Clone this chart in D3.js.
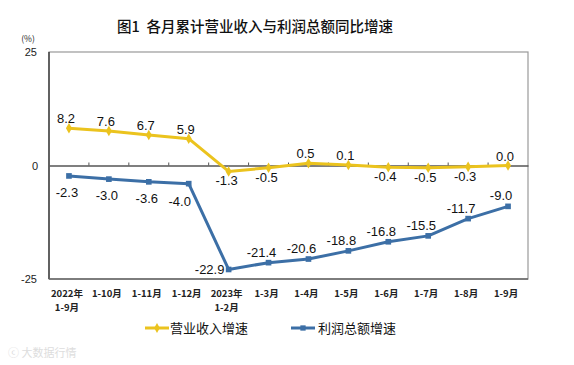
<!DOCTYPE html>
<html><head><meta charset="utf-8">
<script src="https://cdn.jsdelivr.net/npm/d3@7"></script>
<style>body{margin:0;background:#fff}</style>
</head><body>
<svg id="c" width="574" height="365"></svg>
<script>
const categories = [["2022年","1-9月"],["1-10月"],["1-11月"],["1-12月"],["2023年","1-2月"],["1-3月"],["1-4月"],["1-5月"],["1-6月"],["1-7月"],["1-8月"],["1-9月"]];
const revenue = [8.2,7.6,6.7,5.9,-1.3,-0.5,0.5,0.1,-0.4,-0.5,-0.3,0.0];
const profit = [-2.3,-3.0,-3.6,-4.0,-22.9,-21.4,-20.6,-18.8,-16.8,-15.5,-11.7,-9.0];
const yTicks = [25,0,-25];
const seriesNames = ["营业收入增速","利润总额增速"];
const colors = ["#EBC31E","#3C6FA6"];

const svg = d3.select("#c");
const cjk = "'Noto Sans CJK SC', sans-serif";
const num = "'Liberation Sans', Arial, sans-serif";
const L=49,R=528,T=52,B=279;
const x = d3.scaleBand().domain(d3.range(12)).range([L,R]);
const y = d3.scaleLinear().domain([-25,25]).range([B,T]);
const cx = i => x(i)+x.bandwidth()/2;

svg.append("text").attr("x",255).attr("y",32).attr("text-anchor","middle")
  .attr("font-family",cjk).attr("font-size",14.5).attr("font-weight",500).attr("fill","#111")
  .text("图1\u00a0\u00a0各月累计营业收入与利润总额同比增速");

// frame
svg.append("rect").attr("x",L).attr("y",T).attr("width",R-L).attr("height",B-T)
  .attr("fill","none").attr("stroke","#999").attr("stroke-width",1.2);
svg.append("line").attr("x1",L).attr("x2",L).attr("y1",T).attr("y2",B).attr("stroke","#222").attr("stroke-width",1.2);
svg.append("line").attr("x1",L).attr("x2",R).attr("y1",B).attr("y2",B).attr("stroke","#666").attr("stroke-width",1.5);

// zero axis with ticks
const xa = d3.axisTop(x).tickSize(3).tickFormat("").tickSizeOuter(0);
const g0 = svg.append("g").attr("transform",`translate(0,${y(0)})`).call(xa);
g0.select(".domain").attr("stroke","#555").attr("stroke-width",1.5);
g0.selectAll(".tick").attr("transform",(d)=>`translate(${x(d)},0)`);
g0.selectAll(".tick line").attr("stroke","#555");
g0.selectAll(".tick").filter(d=>d===0).remove();

// y ticks
svg.selectAll(".yt").data(yTicks).join("text").attr("class","yt")
  .attr("x",d=>d===0?38:37).attr("y",d=>y(d)+4).attr("text-anchor","end")
  .attr("font-family",num).attr("font-size",11).attr("fill","#222").text(d=>d);
svg.append("text").attr("x",28).attr("y",42).attr("text-anchor","middle")
  .attr("font-family",cjk).attr("font-size",8.5).attr("fill","#222").text("(%)");

// x labels
categories.forEach((c,i)=>{
  c.forEach((s,j)=>{
    svg.append("text").attr("x",cx(i)-2).attr("y",297+j*14).attr("text-anchor","middle")
      .attr("font-family",cjk).attr("font-size",9.5).attr("font-weight","bold").attr("fill","#222").text(s);
  });
});

const line = d3.line().x((d,i)=>cx(i)).y(d=>y(d));
function drawSeries(data,color,shape){
  svg.append("path").datum(data).attr("d",line).attr("fill","none")
    .attr("stroke",color).attr("stroke-width",3).attr("stroke-linejoin","round");
  svg.selectAll(null).data(data).join("path")
    .attr("transform",(d,i)=>`translate(${cx(i)},${y(d)})`)
    .attr("d",d3.symbol().type(shape).size(32)).attr("fill",color);
}
drawSeries(revenue,colors[0],d3.symbolDiamond);
drawSeries(profit,colors[1],d3.symbolSquare);

// labels
function lbl(xv,yv,t){
  svg.append("text").attr("x",xv).attr("y",yv).attr("text-anchor","middle")
    .attr("font-family",num).attr("font-size",13).attr("fill","#111").text(t);
}
revenue.forEach((d,i)=>{
  const above = d>=0 && i!==8;
  const dx = i<4?-3:(i>=6?-3:-2);
  lbl(cx(i)+dx, above? y(d)-5 : y(d)+14, d.toFixed(1));
});
profit.forEach((d,i)=>{
  if(i<3) lbl(cx(i)-2, y(d)+21, d.toFixed(1));
  else if(i===3) lbl(cx(i)-9, y(d)+22, d.toFixed(1));
  else if(i===4) lbl(cx(i)-19, y(d)+5, d.toFixed(1));
  else lbl(cx(i)-7, y(d)-6, d.toFixed(1));
});

// legend
const leg = [[145,170],[291,318]];
seriesNames.forEach((n,k)=>{
  const [lx,tx]=leg[k];
  svg.append("line").attr("x1",lx).attr("x2",lx+24).attr("y1",328).attr("y2",328)
    .attr("stroke",colors[k]).attr("stroke-width",3);
  svg.append("path").attr("transform",`translate(${lx+12},328)`)
    .attr("d",d3.symbol().type(k===0?d3.symbolDiamond:d3.symbolSquare).size(28)).attr("fill",colors[k]);
  svg.append("text").attr("x",tx).attr("y",333).attr("font-family",cjk).attr("font-size",13)
    .attr("fill","#111").text(n);
});
svg.append("text").attr("x",8).attr("y",357).attr("font-family",cjk).attr("font-size",11)
  .attr("fill","#ddd").text("ⓒ 大数据行情");
</script>
</body></html>
